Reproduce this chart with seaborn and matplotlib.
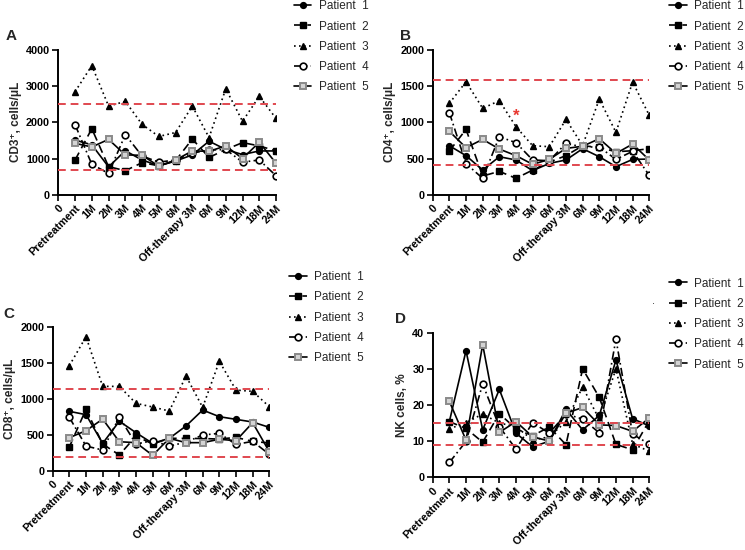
import matplotlib
matplotlib.use("Agg")
import matplotlib.pyplot as plt
import seaborn as sns
import pandas as pd

# ---------------- data ----------------
categories = ["Pretreatment", "1M", "2M", "3M", "4M", "5M", "6M",
              "Off-therapy 3M", "6M", "9M", "12M", "18M", "24M"]
patients = ["Patient  1", "Patient  2", "Patient  3", "Patient  4", "Patient  5"]

cd3_p1 = [1510, 1380, 770, 1215, 960, 800, 930, 1100, 1480, 1250, 1110, 1210, 1210]
cd3_p2 = [960, 1825, 775, 665, 885, 800, 940, 1540, 1030, 1250, 1440, 1350, 1210]
cd3_p3 = [2850, 3570, 2450, 2580, 1945, 1610, 1720, 2450, 1580, 2930, 2030, 2720, 2110]
cd3_p4 = [1935, 840, 590, 1660, 1070, 900, 960, 1150, 1235, 1250, 900, 960, 525]
cd3_p5 = [1420, 1320, 1530, 1100, 1090, 790, 960, 1210, 1200, 1350, 1000, 1450, 870]
cd3_ref = [690, 2500]

cd4_p1 = [677, 540, 341, 525, 480, 332, 433, 480, 636, 525, 387, 488, 493]
cd4_p2 = [604, 903, 258, 323, 226, 341, 450, 540, 677, 654, 594, 608, 636]
cd4_p3 = [1263, 1562, 1194, 1300, 940, 677, 664, 1041, 680, 1322, 862, 1558, 1097]
cd4_p4 = [1134, 430, 226, 802, 719, 480, 470, 710, 660, 660, 488, 600, 267]
cd4_p5 = [876, 650, 765, 631, 540, 420, 488, 640, 670, 774, 571, 700, 480]
cd4_ref = [410, 1585]
cd4_star = 1088

cd8_p1 = [827, 781, 383, 690, 531, 383, 453, 624, 845, 753, 716, 679, 605]
cd8_p2 = [333, 855, 374, 222, 485, 374, 453, 453, 450, 443, 466, 411, 388]
cd8_p3 = [1460, 1861, 1173, 1173, 938, 887, 831, 1316, 882, 1520, 1122, 1104, 891]
cd8_p4 = [744, 346, 291, 748, 374, 420, 346, 400, 499, 522, 369, 411, 231]
cd8_p5 = [462, 559, 720, 406, 393, 217, 453, 393, 393, 440, 420, 670, 268]
cd8_ref = [194, 1141]

nk_p1 = [15.4, 35.0, 13.1, 24.3, 12.2, 8.4, 10.0, 18.8, 13.1, 17.1, 32.4, 16.2, 14.2]
nk_p2 = [15.4, 13.5, 9.7, 17.6, 13.4, 11.5, 13.9, 9.0, 30.0, 22.1, 9.1, 7.6, 15.7]
nk_p3 = [13.4, 15.1, 17.5, 15.0, 14.0, 10.3, 11.2, 15.4, 25.0, 16.0, 30.0, 9.2, 7.2]
nk_p4 = [4.1, 9.9, 25.8, 14.0, 7.8, 15.1, 12.2, 17.5, 16.1, 12.3, 38.2, 11.9, 9.2]
nk_p5 = [21.0, 10.3, 36.7, 12.4, 15.4, 11.2, 10.0, 17.7, 19.3, 14.5, 14.3, 12.7, 16.4]
nk_ref = [9.0, 15.0]

# ---------------- style ----------------
sns.set_theme(style="ticks")
plt.rcParams["font.family"] = ["Liberation Sans", "DejaVu Sans"]

styles = [
    dict(color="black", linestyle="-", marker="o", markerfacecolor="black",
         markeredgecolor="black", markersize=4.2, markeredgewidth=1),
    dict(color="black", linestyle=(0, (5, 3)), marker="s", markerfacecolor="black",
         markeredgecolor="black", markersize=4.2, markeredgewidth=1),
    dict(color="black", linestyle=(0, (1, 2)), marker="^", markerfacecolor="black",
         markeredgecolor="black", markersize=4.2, markeredgewidth=1),
    dict(color="black", linestyle=(0, (5, 2, 1, 2)), marker="o", markerfacecolor="white",
         markeredgecolor="black", markersize=4.8, markeredgewidth=1.2),
    dict(color="black", linestyle="-", marker="s", markerfacecolor="#d4d4d4",
         markeredgecolor="#8a8a8a", markersize=5, markeredgewidth=1.4),
]

fig = plt.figure(figsize=(7.45, 5.5), dpi=100)

panels = [
    dict(letter="A", series=[cd3_p1, cd3_p2, cd3_p3, cd3_p4, cd3_p5], ref=cd3_ref,
         ylabel="CD3⁺, cells/μL", ymax=4000, ystep=1000,
         rect=[0.0783, 0.646, 0.2922, 0.263], letter_xy=(0.008, 0.935),
         leg=(0.388, 1.008)),
    dict(letter="B", series=[cd4_p1, cd4_p2, cd4_p3, cd4_p4, cd4_p5], ref=cd4_ref,
         ylabel="CD4⁺, cells/μL", ymax=2000, ystep=500,
         rect=[0.5808, 0.646, 0.2907, 0.263], letter_xy=(0.537, 0.935),
         leg=(0.892, 1.008)),
    dict(letter="C", series=[cd8_p1, cd8_p2, cd8_p3, cd8_p4, cd8_p5], ref=cd8_ref,
         ylabel="CD8⁺, cells/μL", ymax=2000, ystep=500,
         rect=[0.0707, 0.1436, 0.2908, 0.2624], letter_xy=(0.005, 0.430),
         leg=(0.382, 0.5155)),
    dict(letter="D", series=[nk_p1, nk_p2, nk_p3, nk_p4, nk_p5], ref=nk_ref,
         ylabel="NK cells, %", ymax=40, ystep=10,
         rect=[0.5808, 0.1322, 0.2907, 0.263], letter_xy=(0.530, 0.420),
         leg=(0.892, 0.504)),
]

positions = list(range(1, len(categories) + 1))

for p in panels:
    ax = fig.add_axes(p["rect"])
    handles = []
    for name, vals, st in zip(patients, p["series"], styles):
        df = pd.DataFrame({"x": positions, "y": vals})
        sns.lineplot(data=df, x="x", y="y", ax=ax, linewidth=1.2,
                     legend=False, **st)
        ax.lines[-1].set_label(name)
        handles.append(ax.lines[-1])
    for r in p["ref"]:
        ax.axhline(r, color="#e0484f", linestyle=(0, (4, 2.5)), linewidth=1.4, zorder=5)
    if p["letter"] == "B":
        ax.text(5, cd4_star, "*", color="#e8372f", ha="center", va="center",
                fontsize=12, fontweight="bold")
    ax.set_xlim(0, len(categories))
    ax.set_ylim(0, p["ymax"])
    ax.set_xticks([0] + positions)
    ax.set_xticklabels(["0"] + categories, rotation=45, ha="right",
                       rotation_mode="anchor", fontsize=7.8, fontweight="bold")
    yt = list(range(0, p["ymax"] + 1, p["ystep"]))
    ax.set_yticks(yt)
    ax.set_yticklabels([str(v) for v in yt], fontsize=7.8, fontweight="bold")
    ax.set_xlabel("")
    ax.set_ylabel(p["ylabel"], fontsize=8.5, fontweight="bold", labelpad=3)
    for s in ["top", "right"]:
        ax.spines[s].set_visible(False)
    for s in ["left", "bottom"]:
        ax.spines[s].set_linewidth(1.4)
        ax.spines[s].set_color("black")
    ax.tick_params(axis="both", direction="out", length=4, width=1.2,
                   colors="black", pad=2)
    ax.set_facecolor("white")
    fig.text(p["letter_xy"][0], p["letter_xy"][1], p["letter"], fontsize=11,
             fontweight="bold", ha="left", va="center")
    ax.legend(handles=handles, labels=patients, loc="upper left",
              bbox_to_anchor=p["leg"], bbox_transform=fig.transFigure,
              frameon=False, fontsize=8.5, handlelength=1.5, handletextpad=0.6,
              labelspacing=0.7, borderaxespad=0)

fig.text(0.877, 0.452, ".", fontsize=8, ha="center", va="center")

fig.savefig("out.png", dpi=100, facecolor="white")
